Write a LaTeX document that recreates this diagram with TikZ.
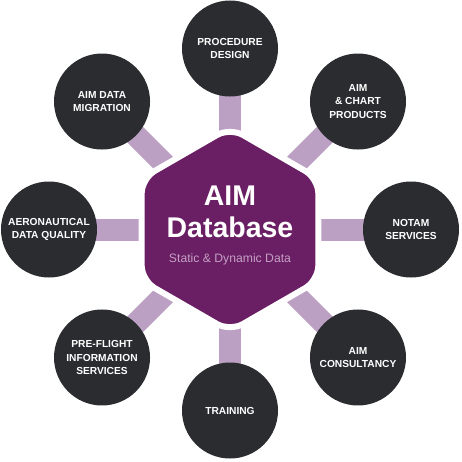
\documentclass[tikz,border=0pt]{standalone}
\usepackage{fontspec}
\setmainfont{Liberation Sans}
\usetikzlibrary{shapes.geometric,backgrounds}
\definecolor{dbpurple}{RGB}{106,30,100}
\definecolor{barlilac}{RGB}{187,160,196}
\definecolor{topicgray}{RGB}{43,44,48}
\definecolor{sublilac}{RGB}{196,160,196}

\begin{document}
\begin{tikzpicture}[x=1pt, y=1pt]
	\tikzset{topic/.style={circle, fill=topicgray, minimum size=96pt, inner sep=0pt, text=white,
			font=\fontsize{10.2}{13.5}\selectfont\bfseries, align=center}}
	\tikzset{hub/.style={regular polygon, regular polygon sides=6, shape border rotate=30,
			minimum size=204pt, inner sep=0pt, fill=dbpurple, draw=white, line width=6pt,
			rounded corners=15pt}}
	\tikzset{bar lines/.style={barlilac, line width=22pt}}
	% \draw (-230, -231) grid[step=20] (232, 230);
	\useasboundingbox (-230, -231.5) rectangle (232, 229.5);

	\node[hub] (db) at (0, 0) {};
	\node[text=white, font=\fontsize{28.5}{30}\selectfont\bfseries, anchor=base] (aim) at (0, 24.5) {AIM};
	\node[text=white, font=\fontsize{28.5}{30}\selectfont\bfseries, anchor=base] (database) at (0, -7.5) {Database};
	\node[text=sublilac, font=\fontsize{12.2}{14}\selectfont, anchor=base] (static) at (0, -32.5) {Static \& Dynamic Data};

	\node[topic] (design) at (90:181pt) {PROCEDURE\\DESIGN};
	\node[topic] (products) at (45:181pt) {AIM\\\& CHART\\PRODUCTS};
	\node[topic] (notam) at (0:181pt) {NOTAM\\SERVICES};
	\node[topic] (consult) at (-45:181pt) {AIM\\CONSULTANCY};
	\node[topic] (training) at (-90:181pt) {TRAINING};
	\node[topic] (preflight) at (-135:181pt) {PRE-FLIGHT\\INFORMATION\\SERVICES};
	\node[topic] (quality) at (180:181pt) {AERONAUTICAL\\DATA QUALITY};
	\node[topic] (migration) at (135:181pt) {AIM DATA\\MIGRATION};

	\begin{scope}[on background layer]
		\draw[bar lines] (db.center) -- (design.center);
		\draw[bar lines] (db.center) -- (products.center);
		\draw[bar lines] (db.center) -- (notam.center);
		\draw[bar lines] (db.center) -- (consult.center);
		\draw[bar lines] (db.center) -- (training.center);
		\draw[bar lines] (db.center) -- (preflight.center);
		\draw[bar lines] (db.center) -- (quality.center);
		\draw[bar lines] (db.center) -- (migration.center);
	\end{scope}
\end{tikzpicture}
\end{document}
